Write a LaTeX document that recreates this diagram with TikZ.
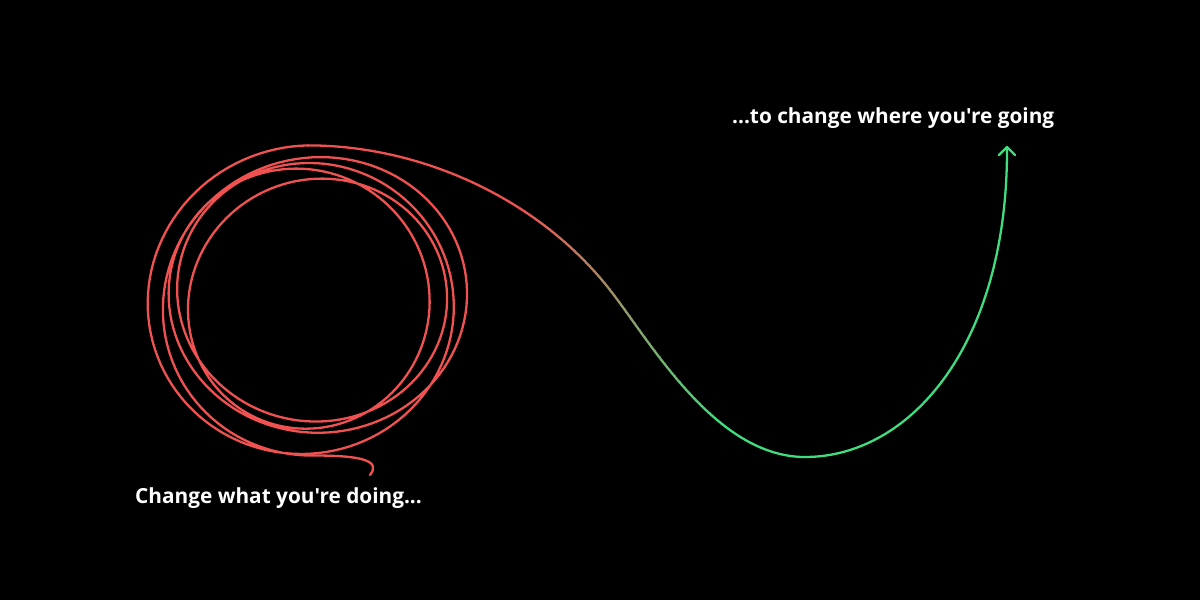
\documentclass[tikz,border=0pt]{standalone}
\usepackage{fontspec}
\newfontfamily\labfont{Open Sans}[Ligatures=TeXOff]
\definecolor{redc}{HTML}{F05252}
\definecolor{greenc}{HTML}{3FDD80}
\begin{document}
\begin{tikzpicture}[x=1pt,y=-1pt,
  declare function={
    rf(\t)=137+15*cos((\t-90)*0.2222);
    cxf(\t)=311+9*sin(0.42*(\t-90)+20);
    cyf(\t)=300+7*sin(0.55*(\t-90)+40);
    rxf(\t)=rf(\t)+3+2*sin(0.3*\t);
    ryf(\t)=rf(\t)-1;
    px(\t)=cxf(\t)+rxf(\t)*cos(\t);
    py(\t)=cyf(\t)+ryf(\t)*sin(\t);
  },
  curve/.style={line width=2.3pt, line cap=round, line join=round},
  lab/.style={text=white, font=\labfont\bfseries\fontsize{20.8}{25}\selectfont, inner sep=0pt}]
\fill[black] (0,0) rectangle (1200,600);
\useasboundingbox (0,0) rectangle (1200,600);

\pgfmathsetmacro\sx{px(90)}
\pgfmathsetmacro\sy{py(90)}
\pgfmathsetmacro\ex{px(1710)}
\pgfmathsetmacro\ey{py(1710)}
\coordinate (loopstart) at (\sx,\sy);
\coordinate (loopend) at (\ex,\ey);
\coordinate (tailend) at (370,475);
\coordinate (tip) at (1007,147);

% the scribble
\draw[curve, redc] (tailend) .. controls (382,460) and ({\sx+45},\sy) .. (loopstart);
\draw[curve, redc] plot[domain=90:1710, samples=541, variable=\t] ({px(\t)},{py(\t)});

% the long curve, coloured from red to green
\def\longpath{(loopend) .. controls ({\ex+115},\ey) and (540,200) .. (610,290)
  .. controls (650,341) and (715,457) .. (805,457)
  .. controls (910,457) and (1008,345) .. (tip)}
\begin{scope}
  \clip (0,0) rectangle (520.5,600);
  \draw[curve, redc] \longpath;
\end{scope}
\foreach \i in {0,...,39} {
  \pgfmathsetmacro\xa{520+5*\i}
  \pgfmathsetmacro\xb{\xa+5.5}
  \pgfmathtruncatemacro\p{(\i+0.5)/40*100}
  \begin{scope}
    \clip (\xa,0) rectangle (\xb,600);
    \draw[curve, color=greenc!\p!redc] \longpath;
  \end{scope}
}
\begin{scope}
  \clip (720,0) rectangle (1200,600);
  \draw[curve, greenc] \longpath;
\end{scope}
\draw[curve, greenc] ([shift={(-8,8)}]tip) -- (tip) -- ([shift={(8,8)}]tip);

\node[lab, anchor=base west] (t1) at (135,503) {Change what you're doing...};
\node[lab, anchor=base west] (t2) at (732,123) {...to change where you're going};
\end{tikzpicture}
\end{document}
